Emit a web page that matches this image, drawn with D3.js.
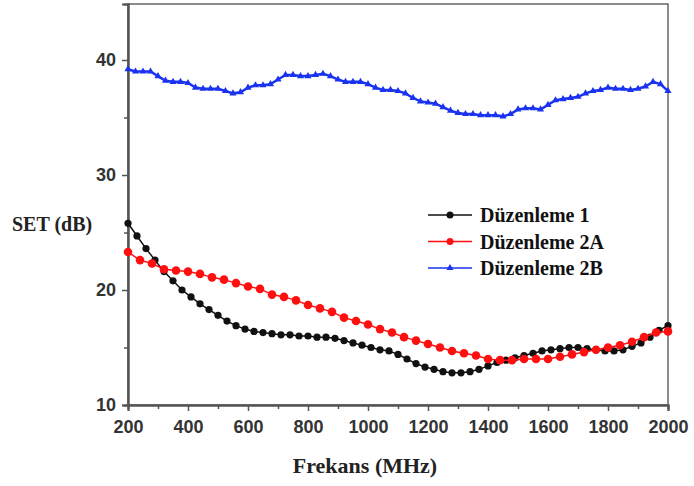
<!DOCTYPE html>
<html>
<head>
<meta charset="utf-8">
<script src="https://cdn.jsdelivr.net/npm/d3@7"></script>
<style>
  body { margin: 0; background: #fff; }
  svg { display: block; }
</style>
</head>
<body>
<div id="chart"></div>
<script>
const freq1 = d3.range(200, 2001, 30);
const set1 = [25.8, 24.7, 23.6, 22.6, 21.6, 20.8, 20.0, 19.4, 18.8, 18.3, 17.8, 17.3, 16.9, 16.6, 16.4,
  16.3, 16.2, 16.1, 16.1, 16.0, 16.0, 15.9, 15.9, 15.8, 15.6, 15.4, 15.2, 15.0, 14.8, 14.7,
  14.4, 14.0, 13.6, 13.3, 13.1, 12.9, 12.8, 12.8, 12.9, 13.1, 13.4, 13.7, 13.9, 14.1, 14.3,
  14.5, 14.7, 14.8, 14.9, 15.0, 15.0, 14.9, 14.8, 14.7, 14.7, 14.8, 15.1, 15.4, 15.9, 16.5, 16.9];

const freq2A = d3.range(200, 2001, 40);
const set2A = [23.3, 22.6, 22.3, 21.8, 21.7, 21.6, 21.4, 21.1, 20.9, 20.6, 20.3, 20.1, 19.6, 19.4, 19.1,
  18.7, 18.4, 18.1, 17.6, 17.3, 17.0, 16.6, 16.3, 15.9, 15.6, 15.3, 15.0, 14.7, 14.5, 14.3,
  14.0, 13.9, 13.9, 14.0, 14.0, 14.0, 14.2, 14.4, 14.6, 14.8, 15.0, 15.2, 15.5, 15.9, 16.3, 16.4];

const freq2B = d3.range(200, 2001, 25);
const set2B = [39.2, 39.0, 39.0, 39.0, 38.6, 38.2, 38.1, 38.1, 38.0, 37.6, 37.5, 37.5, 37.5, 37.3, 37.1,
  37.2, 37.6, 37.8, 37.8, 37.9, 38.3, 38.7, 38.7, 38.6, 38.6, 38.7, 38.8, 38.6, 38.3, 38.1,
  38.1, 38.1, 37.9, 37.6, 37.4, 37.4, 37.3, 37.1, 36.7, 36.4, 36.3, 36.2, 35.9, 35.6, 35.4,
  35.3, 35.3, 35.2, 35.2, 35.2, 35.1, 35.3, 35.7, 35.8, 35.8, 35.7, 36.1, 36.5, 36.6, 36.7,
  36.8, 37.1, 37.3, 37.4, 37.6, 37.5, 37.5, 37.4, 37.5, 37.7, 38.1, 37.9, 37.3];

const seriesNames = ["Düzenleme 1", "Düzenleme 2A", "Düzenleme 2B"];
const xTicks = d3.range(200, 2001, 200);
const yTicks = [10, 20, 30, 40];

const width = 694, height = 486;
const margin = {top: 4, right: 26, bottom: 81, left: 128};
const innerW = width - margin.left - margin.right;
const innerH = height - margin.top - margin.bottom;

const svg = d3.select("#chart").append("svg")
  .attr("width", width)
  .attr("height", height);

const g = svg.append("g")
  .attr("transform", `translate(${margin.left},${margin.top})`);

const x = d3.scaleLinear().domain([200, 2000]).range([0, innerW]);
const y = d3.scaleLinear().domain([10, 44.87]).range([innerH, 0]);

// frame
g.append("rect")
  .attr("width", innerW)
  .attr("height", innerH)
  .attr("fill", "none")
  .attr("stroke", "#666")
  .attr("stroke-width", 1.5);

// minor ticks
const xAxisMinor = d3.axisBottom(x).tickValues(d3.range(300, 2000, 200)).tickSize(4).tickFormat("");
const yAxisMinor = d3.axisLeft(y).tickValues([15, 25, 35]).tickSize(4).tickFormat("");

const xAxis = d3.axisBottom(x).tickValues(xTicks).tickSize(6).tickPadding(9).tickFormat(d3.format("d"));
const yAxis = d3.axisLeft(y).tickValues(yTicks).tickSize(6).tickPadding(6);

function styleAxis(sel) {
  sel.selectAll(".domain").attr("stroke", "#555").attr("stroke-width", 2);
  sel.selectAll(".tick line").attr("stroke", "#555").attr("stroke-width", 1.5);
  sel.selectAll("text")
    .attr("fill", "#333")
    .style("font-family", "Liberation Sans, Arial, sans-serif")
    .style("font-weight", "bold")
    .style("font-size", "18px");
}

g.append("g").attr("transform", `translate(0,${innerH})`).call(xAxisMinor).call(styleAxis);
g.append("g").call(yAxisMinor).call(styleAxis);
g.append("g").attr("transform", `translate(0,${innerH})`).call(xAxis).call(styleAxis);
g.append("g").call(yAxis).call(styleAxis);

const line = d3.line().x(d => x(d[0])).y(d => y(d[1]));

const data1 = freq1.map((f, i) => [f, set1[i]]);
const data2A = freq2A.map((f, i) => [f, set2A[i]]);
const data2B = freq2B.map((f, i) => [f, set2B[i]]);

const colors = ["#111", "#ff1010", "#1a33f0"];

// Düzenleme 2B (blue triangles)
g.append("path").datum(data2B)
  .attr("d", line).attr("fill", "none").attr("stroke", colors[2]).attr("stroke-width", 2.5);
const tri = d3.symbol().type(d3.symbolTriangle).size(22);
g.selectAll(".p2b").data(data2B).join("path")
  .attr("class", "p2b")
  .attr("d", tri)
  .attr("transform", d => `translate(${x(d[0])},${y(d[1])})`)
  .attr("fill", colors[2]);

// Düzenleme 1 (black)
g.append("path").datum(data1)
  .attr("d", line).attr("fill", "none").attr("stroke", colors[0]).attr("stroke-width", 1.5);
g.selectAll(".p1").data(data1).join("circle")
  .attr("class", "p1")
  .attr("cx", d => x(d[0])).attr("cy", d => y(d[1])).attr("r", 3.6)
  .attr("fill", colors[0]);

// Düzenleme 2A (red)
g.append("path").datum(data2A)
  .attr("d", line).attr("fill", "none").attr("stroke", colors[1]).attr("stroke-width", 1.5);
g.selectAll(".p2a").data(data2A).join("circle")
  .attr("class", "p2a")
  .attr("cx", d => x(d[0])).attr("cy", d => y(d[1])).attr("r", 4.3)
  .attr("fill", colors[1]);

// legend
const legend = svg.append("g").attr("transform", "translate(428,215)");
seriesNames.forEach((name, i) => {
  const row = legend.append("g").attr("transform", `translate(0,${i * 26.5})`);
  row.append("line").attr("x1", 0).attr("x2", 44).attr("y1", 0).attr("y2", 0)
    .attr("stroke", colors[i]).attr("stroke-width", 1.5);
  if (i === 2) {
    row.append("path").attr("d", tri).attr("transform", "translate(22,0)").attr("fill", colors[i]);
  } else {
    row.append("circle").attr("cx", 22).attr("cy", 0).attr("r", 3.5).attr("fill", colors[i]);
  }
  row.append("text").attr("x", 52).attr("y", 7)
    .style("font-family", "Liberation Serif, Times New Roman, serif")
    .style("font-weight", "bold")
    .style("font-size", "20px")
    .attr("fill", "#111")
    .text(name);
});

// axis titles
svg.append("text")
  .attr("x", 12).attr("y", 231)
  .style("font-family", "Liberation Serif, Times New Roman, serif")
  .style("font-weight", "bold")
  .style("font-size", "20px")
  .attr("fill", "#222")
  .text("SET (dB)");

svg.append("text")
  .attr("x", 365).attr("y", 473)
  .attr("text-anchor", "middle")
  .style("font-family", "Liberation Serif, Times New Roman, serif")
  .style("font-weight", "bold")
  .style("font-size", "22px")
  .attr("fill", "#222")
  .text("Frekans (MHz)");
</script>
</body>
</html>
